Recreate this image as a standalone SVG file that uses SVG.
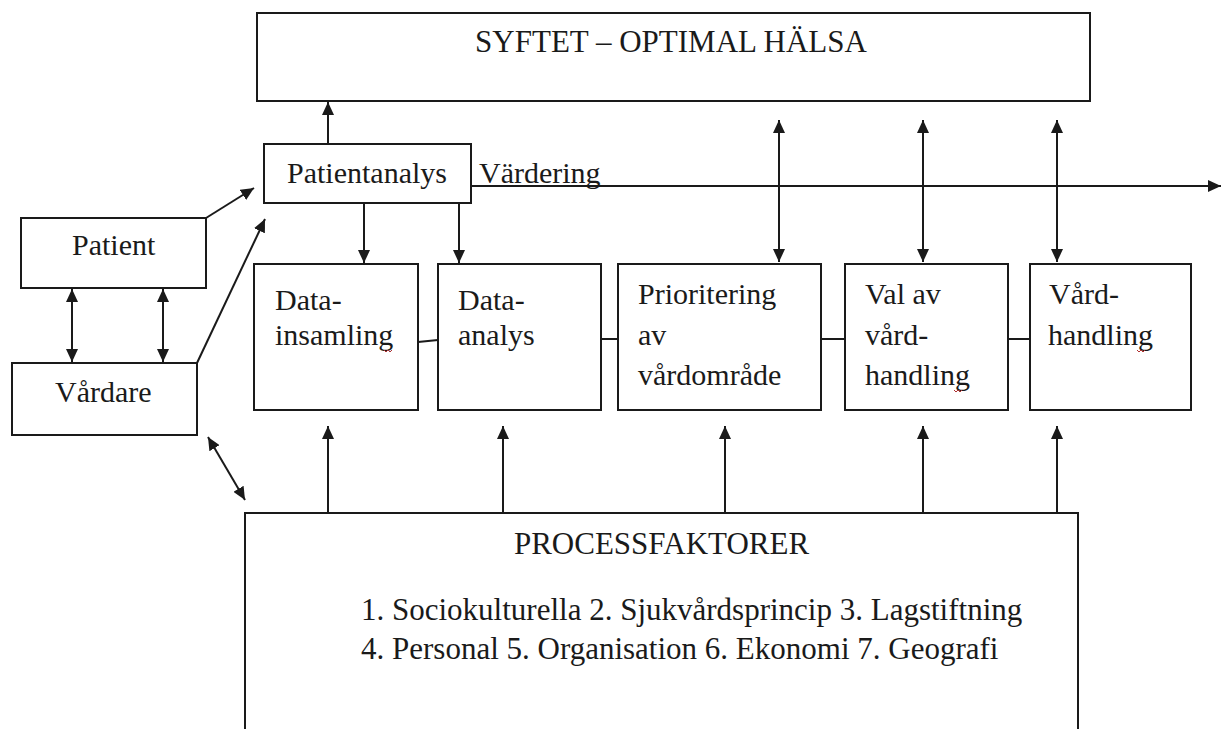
<svg xmlns="http://www.w3.org/2000/svg" width="1221" height="729" viewBox="0 0 1221 729">
  <style>
    .box { fill: #ffffff; stroke: #1a1a1a; stroke-width: 2; }
    .ln { fill: none; stroke: #1a1a1a; stroke-width: 2; }
    .arr { marker-end: url(#head); }
    .dbl { marker-start: url(#head); marker-end: url(#head); }
    text { font-family: 'Liberation Serif', 'Times New Roman', 'DejaVu Serif', serif; font-size: 30px; fill: #1a1a1a; }
    .big { font-size: 31px; }
    .mid { text-anchor: middle; }
    .sq { fill: none; stroke: #b03030; stroke-width: 1; }
  </style>
  <defs>
    <marker id="head" markerUnits="userSpaceOnUse" markerWidth="14" markerHeight="12" refX="13" refY="6" orient="auto-start-reverse">
      <path d="M0,0 L13,6 L0,12 Z" fill="#1a1a1a"/>
    </marker>
  </defs>
  <rect width="1221" height="729" fill="#ffffff"/>

  <!-- connectors -->
  <g id="connectors">
    <!-- Patientanalys up to the goal box -->
    <line class="ln arr" x1="328" y1="144" x2="328" y2="102"/>
    <!-- evaluation line running out to the right -->
    <line class="ln arr" x1="471" y1="186" x2="1221" y2="186"/>
    <!-- Patientanalys down to the two data steps -->
    <line class="ln arr" x1="364" y1="204" x2="364" y2="263"/>
    <line class="ln arr" x1="459" y1="204" x2="459" y2="263"/>
    <!-- Patient / Vårdare to Patientanalys -->
    <line class="ln arr" x1="206" y1="218" x2="254" y2="188"/>
    <line class="ln arr" x1="197" y1="363" x2="265" y2="219"/>
    <!-- Patient <-> Vårdare -->
    <line class="ln dbl" x1="72" y1="289" x2="72" y2="362"/>
    <line class="ln dbl" x1="163" y1="289" x2="163" y2="362"/>
    <!-- Vårdare <-> process factors -->
    <line class="ln dbl" x1="208" y1="437" x2="245" y2="500"/>
    <!-- goal box <-> later steps -->
    <line class="ln dbl" x1="779" y1="120" x2="779" y2="262"/>
    <line class="ln dbl" x1="923" y1="120" x2="923" y2="262"/>
    <line class="ln dbl" x1="1057" y1="120" x2="1057" y2="262"/>
    <!-- links between the process steps -->
    <line class="ln" x1="418" y1="342" x2="438" y2="340"/>
    <line class="ln" x1="601" y1="339" x2="618" y2="339"/>
    <line class="ln" x1="821" y1="339" x2="845" y2="339"/>
    <line class="ln" x1="1008" y1="339" x2="1030" y2="339"/>
    <!-- process factors up to every step -->
    <line class="ln arr" x1="328" y1="513" x2="328" y2="426"/>
    <line class="ln arr" x1="503" y1="513" x2="503" y2="426"/>
    <line class="ln arr" x1="725" y1="513" x2="725" y2="426"/>
    <line class="ln arr" x1="923" y1="513" x2="923" y2="426"/>
    <line class="ln arr" x1="1057" y1="513" x2="1057" y2="426"/>
  </g>

  <g id="syftet">
    <rect class="box" x="257" y="13" width="833" height="88"/>
    <text class="big mid" x="671" y="52">SYFTET – OPTIMAL HÄLSA</text>
  </g>

  <g id="patientanalys">
    <rect class="box" x="264" y="144" width="207" height="59"/>
    <text x="287" y="183">Patientanalys</text>
  </g>

  <g id="vardering">
    <text x="479" y="183">Värdering</text>
  </g>

  <g id="patient">
    <rect class="box" x="21" y="218" width="185" height="70"/>
    <text x="72" y="255">Patient</text>
  </g>

  <g id="vardare">
    <rect class="box" x="12" y="363" width="185" height="72"/>
    <text x="55" y="402">Vårdare</text>
  </g>

  <g id="datainsamling">
    <rect class="box" x="254" y="264" width="164" height="146"/>
    <text x="275" y="310">Data-</text>
    <text x="275" y="345">insamling</text>
    <path class="sq" d="M384,350 l2,2 l2,-2 l2,2 l2,-2"/>
  </g>

  <g id="dataanalys">
    <rect class="box" x="438" y="264" width="163" height="146"/>
    <text x="458" y="310">Data-</text>
    <text x="458" y="345">analys</text>
  </g>

  <g id="prioritering">
    <rect class="box" x="618" y="264" width="203" height="146"/>
    <text x="638" y="304">Prioritering</text>
    <text x="638" y="345">av</text>
    <text x="638" y="385">vårdområde</text>
  </g>

  <g id="valav">
    <rect class="box" x="845" y="264" width="163" height="146"/>
    <text x="865" y="304">Val av</text>
    <text x="865" y="345">vård-</text>
    <text x="865" y="385">handling</text>
    <path class="sq" d="M954,390 l2,2 l2,-2 l2,2 l2,-2"/>
  </g>

  <g id="vardhandling">
    <rect class="box" x="1030" y="264" width="161" height="146"/>
    <text x="1049" y="304">Vård-</text>
    <text x="1048" y="345">handling</text>
    <path class="sq" d="M1137,350 l2,2 l2,-2 l2,2 l2,-2"/>
  </g>

  <g id="processfaktorer">
    <rect class="box" x="245" y="513" width="833" height="230"/>
    <text class="big mid" x="661.5" y="554">PROCESSFAKTORER</text>
    <text class="big" x="361" y="620">1. Sociokulturella 2. Sjukvårdsprincip 3. Lagstiftning</text>
    <text class="big" x="361" y="659">4. Personal 5. Organisation 6. Ekonomi 7. Geografi</text>
  </g>
</svg>
